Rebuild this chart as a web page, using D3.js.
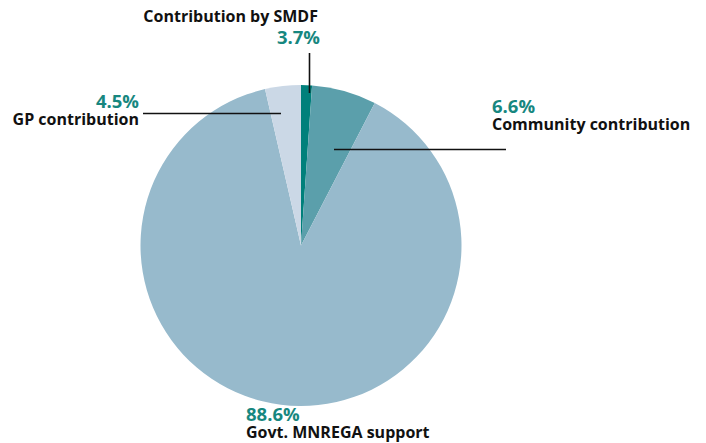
<!DOCTYPE html>
<html lang="en">
<head>
  <meta charset="UTF-8">
  <title>Contribution pie</title>
  <script src="https://d3js.org/d3.v7.min.js"></script>
  <style>
    body { margin: 0; background: #fff; }
    text { font-family: "Open Sans", sans-serif; font-weight: 700; }
    .pct { fill: #17877f; font-size: 18.5px; }
    .name { fill: #111; font-size: 16px; }
  </style>
</head>
<body>
  <svg></svg>
  <script>
    // slices clockwise from 12 o'clock
    const categories = ["Contribution by SMDF", "Community contribution", "Govt. MNREGA support", "GP contribution"];
    const sliceValues = [1.1, 6.5, 88.8, 3.6];
    const pctLabels = ["3.7%", "6.6%", "88.6%", "4.5%"];
    const colors = ["#00807b", "#5b9fab", "#97bacc", "#cbd8e6"];

    const width = 706, height = 443;
    const cx = 301, cy = 245.5, radius = 160.5;

    // annotation layout: text anchor point + leader line
    const notes = [
      { x: 318, y: 22, anchor: "end", pctFirst: false, line: [[309.5, 53], [309.5, 93]] },
      { x: 492, y: 112.5, anchor: "start", pctFirst: true, line: [[334, 149.5], [506, 149.5]] },
      { x: 246, y: 420.5, anchor: "start", pctFirst: true, line: null },
      { x: 139, y: 107.5, anchor: "end", pctFirst: true, line: [[143, 113.5], [281, 113.5]] }
    ];

    const svg = d3.select("svg")
      .attr("width", width)
      .attr("height", height);

    const pie = d3.pie().sort(null).value(d => d);
    const arc = d3.arc().innerRadius(0).outerRadius(radius);

    svg.append("g")
      .attr("transform", `translate(${cx},${cy})`)
      .selectAll("path")
      .data(pie(sliceValues))
      .enter().append("path")
      .attr("d", arc)
      .attr("fill", (d, i) => colors[i]);

    notes.forEach((n, i) => {
      if (n.line) {
        svg.append("line")
          .attr("x1", n.line[0][0]).attr("y1", n.line[0][1])
          .attr("x2", n.line[1][0]).attr("y2", n.line[1][1])
          .attr("stroke", "#111")
          .attr("stroke-width", 1.6);
      }
      if (n.pctFirst) {
        svg.append("text").attr("class", "pct")
          .attr("x", n.x).attr("y", n.y).attr("text-anchor", n.anchor)
          .text(pctLabels[i]);
        svg.append("text").attr("class", "name")
          .attr("x", n.x).attr("y", n.y + 17.5).attr("text-anchor", n.anchor)
          .text(categories[i]);
      } else {
        svg.append("text").attr("class", "name")
          .attr("x", n.x).attr("y", n.y).attr("text-anchor", n.anchor)
          .text(categories[i]);
        svg.append("text").attr("class", "pct")
          .attr("x", n.x + 2).attr("y", n.y + 22).attr("text-anchor", n.anchor)
          .text(pctLabels[i]);
      }
    });
  </script>
</body>
</html>
